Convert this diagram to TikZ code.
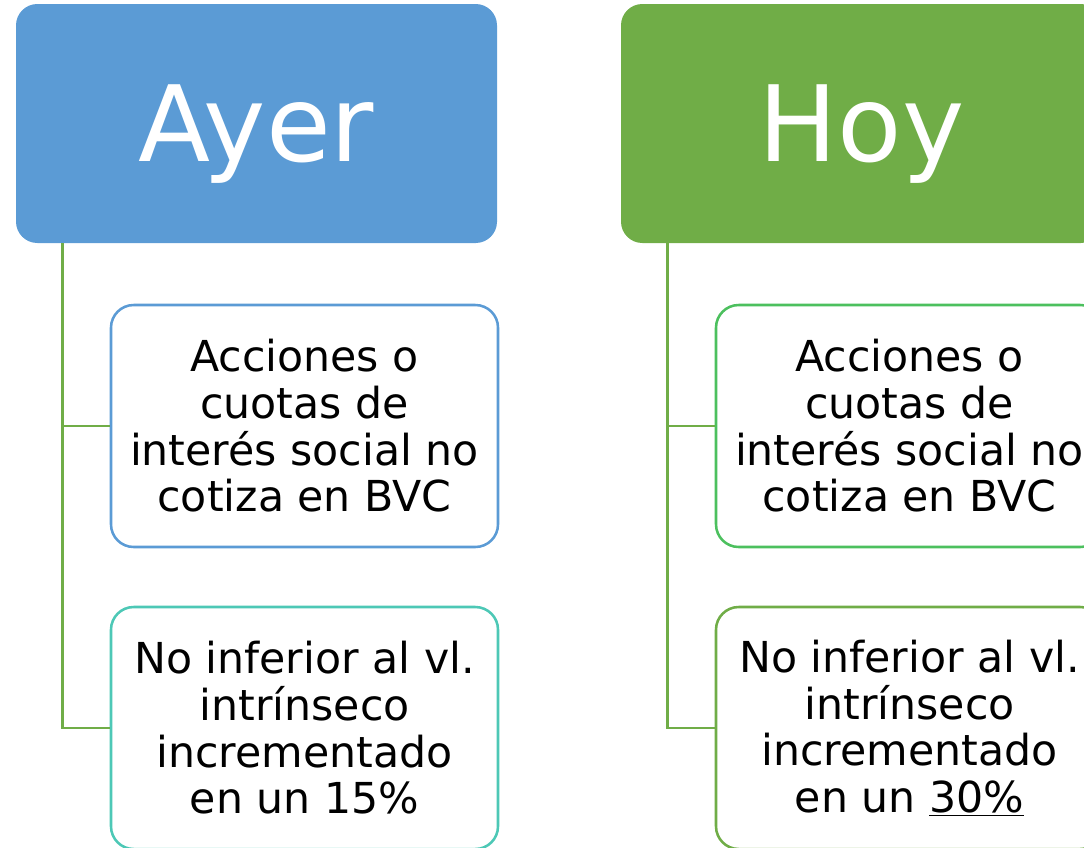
\documentclass[tikz,border=0pt]{standalone}
\usepackage{fontspec}
\setmainfont{DejaVu Sans}
\usetikzlibrary{positioning}

\definecolor{ayerblue}{HTML}{5B9BD5}
\definecolor{hoygreen}{HTML}{70AD47}
\definecolor{tealline}{HTML}{4DC8B6}
\definecolor{brightgreen}{HTML}{4CC05E}

\tikzset{
  header/.style={rectangle, rounded corners=16pt, minimum width=360.75pt, minimum height=179.25pt,
    inner sep=0pt, text depth=0pt, text=white, font=\fontsize{79}{79}\selectfont},
  item/.style={draw, fill=white, rectangle, line width=1.9pt, rounded corners=17pt,
    minimum width=290.25pt, minimum height=181.5pt, inner sep=0pt, align=center,
    font=\fontsize{32}{35}\selectfont},
  branch/.style={draw=hoygreen, line width=1.9pt},
}

\begin{document}
\begin{tikzpicture}[x=0.75pt, y=-0.75pt]
				\useasboundingbox (0,0) rectangle (1084,847);
				\clip (0,0) rectangle (1084,847);

				% Ayer
				\node[header, fill=ayerblue] (ayer) at (256.5,123.5) {Ayer};
				\node[item, draw=ayerblue] (ayer1) at (304.5,426) {Acciones o\\cuotas de\\interés social no\\cotiza en BVC};
				\node[item, draw=tealline] (ayer2) at (304.5,728) {No inferior al vl.\\intrínseco\\incrementado\\en un 15\%};
				\draw[branch] ([xshift=35.25pt]ayer.south west) |- (ayer1.west);
				\draw[branch] ([xshift=35.25pt]ayer.south west) |- (ayer2.west);

				% Hoy
				\node[header, fill=hoygreen] (hoy) at (861.5,123.5) {Hoy};
				\node[item, draw=brightgreen] (hoy1) at (909.5,426) {Acciones o\\cuotas de\\interés social no\\cotiza en BVC};
				\node[item, draw=hoygreen] (hoy2) at (909.5,728) {No inferior al vl.\\intrínseco\\incrementado\\en un \underline{30\%}};
				\draw[branch] ([xshift=35.25pt]hoy.south west) |- (hoy1.west);
				\draw[branch] ([xshift=35.25pt]hoy.south west) |- (hoy2.west);
			\end{tikzpicture}
\end{document}
